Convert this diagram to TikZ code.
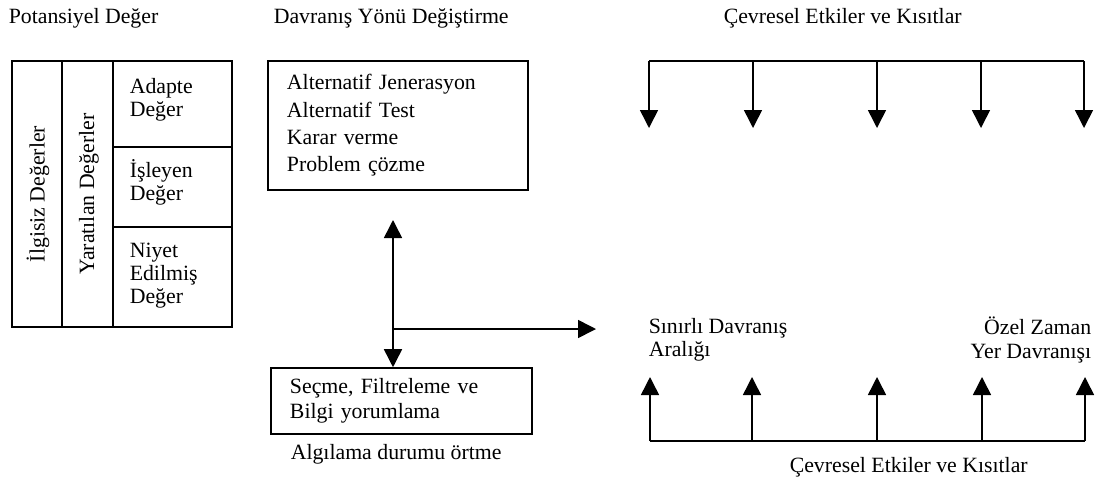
\documentclass[tikz,border=0pt]{standalone}
\usepackage{fontspec}
\setmainfont{Liberation Serif}
\usetikzlibrary{arrows.meta}

\begin{document}
\begin{tikzpicture}[
      x=0.025cm, y=-0.025cm,
      txt/.style={inner sep=0pt, align=left, font=\fontsize{15.5}{16.4}\selectfont},
      box/.style={draw, line width=1.1pt, align=left, inner xsep=0.475cm,
                  font=\fontsize{15.5}{16.4}\selectfont},
      >={Triangle[length=0.45cm, width=0.45cm]}, line width=1.1pt,
    ]
    \useasboundingbox (0,0) rectangle (1104,482);

    % titles
    \node[txt, anchor=west] (potdeg) at (8,18) {Potansiyel Değer};
    \node[txt, anchor=west] (davyon) at (273,18) {Davranış Yönü Değiştirme};
    \node[txt, anchor=west] (cevust) at (723,18) {Çevresel Etkiler ve Kısıtlar};
    \node[txt, anchor=west] (cevalt) at (789,467) {Çevresel Etkiler ve Kısıtlar};
    \node[txt, anchor=west] (algdur) at (290,454) {Algılama durumu örtme};

    % value table
    \draw (12,61) rectangle (232,327);
    \draw (62,61) -- (62,327);
    \draw (113,61) -- (113,327);
    \draw (113,147) -- (232,147);
    \draw (113,227) -- (232,227);
    \node[txt, rotate=90] (ilgisiz) at (38,194) {İlgisiz Değerler};
    \node[txt, rotate=90] (yaratilan) at (89,194) {Yaratılan Değerler};
    \node[txt, anchor=west] (adapte) at (129,100) {Adapte\\Değer};
    \node[txt, anchor=west] (isleyen) at (129,182) {İşleyen\\Değer};
    \node[txt, anchor=west] (niyet) at (129,276) {Niyet\\Edilmiş\\Değer};

    % boxes
    \node[box, minimum width=6.5cm, minimum height=3.225cm, text width=5.55cm,
          font=\fontsize{15.5}{19.4}\selectfont]
      (alt) at (398,125.5)
      {Alternatif Jenerasyon\\Alternatif Test\\Karar verme\\Problem çözme};
    \node[box, minimum width=6.525cm, minimum height=1.65cm, text width=5.575cm,
          font=\fontsize{15.5}{18}\selectfont]
      (secme) at (401.5,401)
      {Seçme, Filtreleme ve\\Bilgi yorumlama};

    % arrows between
    \coordinate (ust) at (393,220);
    \coordinate (kavsak) at (393,329);
    \coordinate (sag) at (596,329);
    \draw[<->] (ust) -- (ust |- secme.north);
    \draw[->] (kavsak) -- (sag);

    % behaviour labels
    \node[txt, anchor=west] (sinir) at (648,340) {Sınırlı Davranış\\Aralığı};
    \node[txt, anchor=east, align=right] (ozel) at (1092,340) {Özel Zaman\\Yer Davranışı};

    % environment effects, top
    \coordinate (ustsol) at (649,61);
    \coordinate (ustsag) at (1084,61);
    \draw (ustsol) -- (ustsag);
    \foreach \x [count=\i] in {649,753,877,981,1084} {
      \coordinate (asagi\i) at (\x,128);
      \draw[->] (asagi\i |- ustsol) -- (asagi\i);
    }

    % environment effects, bottom
    \coordinate (altsol) at (650,441);
    \coordinate (altsag) at (1085,441);
    \draw (altsol) -- (altsag);
    \foreach \x [count=\i] in {650,752,877,982,1085} {
      \coordinate (yukari\i) at (\x,377);
      \draw[->] (yukari\i |- altsol) -- (yukari\i);
    }
\end{tikzpicture}
\end{document}
